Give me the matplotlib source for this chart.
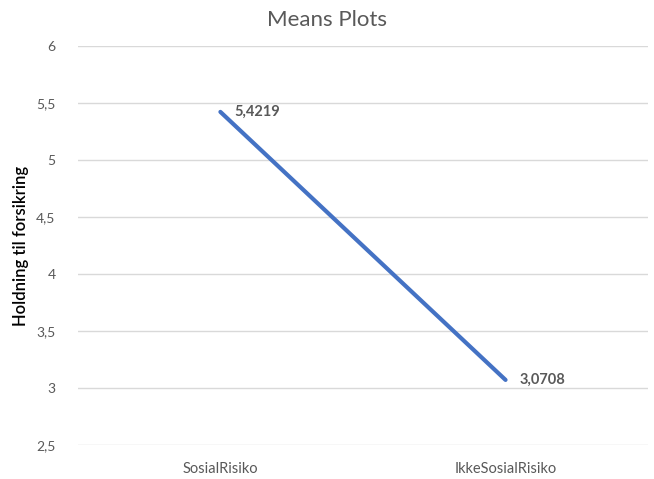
import matplotlib

matplotlib.use("Agg")
import matplotlib.pyplot as plt

# Means per group
GROUPS = ["SosialRisiko", "IkkeSosialRisiko"]
MEANS = [5.4219, 3.0708]
Y_TICKS = [2.5, 3, 3.5, 4, 4.5, 5, 5.5, 6]

COLOR_LINE = "#4472C4"
COLOR_TEXT = "#595959"
COLOR_GRID = "#D9D9D9"


def fmt(v):
    # Norwegian decimal comma, no trailing zeros
    s = f"{v:g}"
    return s.replace(".", ",")


def main():
    plt.rcParams["font.family"] = ["Lato", "DejaVu Sans"]

    fig = plt.figure(figsize=(6.54, 4.79), dpi=100)
    ax = fig.add_axes([0.119, 0.071, 0.872, 0.833])

    x = list(range(len(GROUPS)))
    ax.plot(x, MEANS, color=COLOR_LINE, linewidth=3, solid_capstyle="round", zorder=3)

    for xi, v in zip(x, MEANS):
        ax.annotate(
            fmt(v),
            xy=(xi, v),
            xytext=(10, 0),
            textcoords="offset points",
            va="center",
            ha="left",
            fontsize=10.5,
            color=COLOR_TEXT,
            fontweight="bold",
        )

    ax.set_xlim(-0.5, len(GROUPS) - 0.5)
    ax.set_ylim(Y_TICKS[0], Y_TICKS[-1])
    ax.set_yticks(Y_TICKS)
    ax.set_yticklabels([fmt(t) for t in Y_TICKS], fontsize=10, color=COLOR_TEXT)
    ax.set_xticks(x)
    ax.set_xticklabels(GROUPS, fontsize=10.5, color=COLOR_TEXT)
    ax.tick_params(axis="both", length=0)
    ax.tick_params(axis="y", pad=16)
    ax.tick_params(axis="x", pad=12)

    ax.grid(True, axis="y", color=COLOR_GRID, linewidth=1)
    ax.set_axisbelow(True)
    for spine in ax.spines.values():
        spine.set_visible(False)

    ax.set_ylabel("Holdning til forsikring", fontsize=12, color="#000000",
                  fontweight="semibold", labelpad=5)
    fig.text(0.5, 0.958, "Means Plots", fontsize=16, color=COLOR_TEXT,
             ha="center", va="center")

    fig.savefig("out.png", dpi=100)


if __name__ == "__main__":
    main()
